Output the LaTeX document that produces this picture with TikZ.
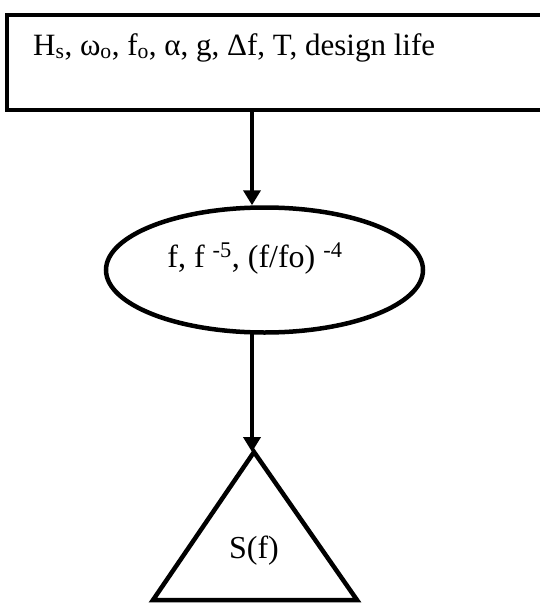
\documentclass[tikz,border=0pt]{standalone}
\usepackage{fontspec}
\setmainfont{Liberation Serif}
\usetikzlibrary{shapes.geometric,arrows.meta}
\begin{document}
\begin{tikzpicture}[x=1pt,y=-1pt,
  shapeline/.style={draw=black,line width=4pt},
  lbl/.style={font=\fontsize{32}{38}\selectfont,inner sep=0pt},
  flow/.style={draw=black,line width=4pt,-{Triangle[width=17pt,length=15pt]}}]
\useasboundingbox (0,0) rectangle (539,605);
% input box (runs off the right edge)
\node[shapeline,line width=3.5pt,rectangle,minimum width=560pt,minimum height=95pt,anchor=north west,inner sep=0pt] (inp) at (5,13) {};
\node[lbl,font=\fontsize{31}{37}\selectfont,anchor=base west] (inptxt) at (33,55) {H\textsubscript{s}, ω\textsubscript{o}, f\textsubscript{o}, α, g, Δf, T, design life};
% ellipse
\node[shapeline,line width=4.5pt,ellipse,minimum width=317pt,minimum height=125pt,inner sep=0pt] (ell) at (264.5,270) {};
\node[lbl,anchor=base] (elltxt) at (255,267) {f, f \textsuperscript{-5}, (f/fo) \textsuperscript{-4}};
% triangle
\coordinate (tri) at (254,452);
\coordinate (trl) at (153,600);
\coordinate (trr) at (357,600);
\draw[shapeline,line width=4.5pt,line join=miter] (tri) -- (trr) -- (trl) -- cycle;
\node[lbl] (sf) at (254,551) {S(f)};
% connectors
\coordinate (a1) at (252,108);
\draw[flow] (a1) -- (a1 |- ell.north);
\coordinate (a2) at (252,332.5);
\draw[flow] (a2) -- (a2 |- tri);
\end{tikzpicture}
\end{document}
